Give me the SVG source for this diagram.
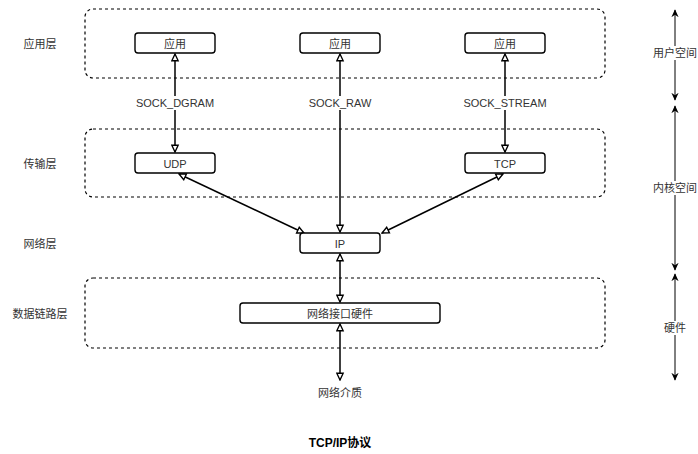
<svg xmlns="http://www.w3.org/2000/svg" width="698" height="454" viewBox="0 0 698 454">
<style>
text{font-family:"Liberation Sans",Arial,"Noto Sans CJK SC",sans-serif;font-size:11px;fill:#333;text-anchor:middle;dominant-baseline:central}
.grp{fill:none;stroke:#000;stroke-width:1.2;stroke-dasharray:3 3}
.node{fill:#fff;stroke:#000;stroke-width:1.4}
.c{fill:none;stroke:#000;stroke-width:1.5}
.s{fill:none;stroke:#000;stroke-width:1}
.bg{fill:#fff}
</style>
<defs>
<marker id="o" viewBox="0 0 10 10" refX="9" refY="5" markerWidth="9" markerHeight="9" orient="auto-start-reverse" markerUnits="userSpaceOnUse">
<path d="M1.5,1.5 L9,5 L1.5,8.5 Z" fill="#fff" stroke="#000" stroke-width="1.5"/>
</marker>
<marker id="f" viewBox="0 0 10 10" refX="9" refY="5" markerWidth="8" markerHeight="8" orient="auto-start-reverse" markerUnits="userSpaceOnUse">
<path d="M0,0.5 L10,5 L0,9.5 L3,5 Z" fill="#000"/>
</marker>
</defs>
<g id="groups">
<rect class="grp" x="85" y="9" width="520" height="69" rx="8"/>
<rect class="grp" x="85" y="129" width="520" height="68" rx="8"/>
<rect class="grp" x="85" y="278" width="520" height="70" rx="8"/>
</g>
<g id="layer-labels">
<text x="40" y="44">应用层</text>
<text x="40" y="164">传输层</text>
<text x="40" y="244">网络层</text>
<text x="40" y="314">数据链路层</text>
</g>
<g id="connectors">
<line class="c" x1="175" y1="54" x2="175" y2="152" marker-start="url(#o)" marker-end="url(#o)"/>
<line class="c" x1="340" y1="54" x2="340" y2="232" marker-start="url(#o)" marker-end="url(#o)"/>
<line class="c" x1="505" y1="54" x2="505" y2="152" marker-start="url(#o)" marker-end="url(#o)"/>
<line class="c" x1="179" y1="174" x2="304" y2="233" marker-start="url(#o)" marker-end="url(#o)"/>
<line class="c" x1="503" y1="174" x2="382" y2="233" marker-start="url(#o)" marker-end="url(#o)"/>
<line class="c" x1="340" y1="254" x2="340" y2="302" marker-start="url(#o)" marker-end="url(#o)"/>
<line class="c" x1="340" y1="324" x2="340" y2="380" marker-start="url(#o)" marker-end="url(#o)"/>
<rect class="bg" x="136" y="96" width="78" height="14"/>
<text x="175" y="103">SOCK_DGRAM</text>
<rect class="bg" x="309" y="96" width="62" height="14"/>
<text x="340" y="103">SOCK_RAW</text>
<rect class="bg" x="464" y="96" width="82" height="14"/>
<text x="505" y="103">SOCK_STREAM</text>
</g>
<g id="app1"><rect class="node" x="135" y="33" width="80" height="20" rx="3"/><text x="175" y="44">应用</text></g>
<g id="app2"><rect class="node" x="300" y="33" width="80" height="20" rx="3"/><text x="340" y="44">应用</text></g>
<g id="app3"><rect class="node" x="465" y="33" width="80" height="20" rx="3"/><text x="505" y="44">应用</text></g>
<g id="udp"><rect class="node" x="135" y="153" width="80" height="20" rx="3"/><text x="175" y="164">UDP</text></g>
<g id="tcp"><rect class="node" x="465" y="153" width="80" height="20" rx="3"/><text x="505" y="164">TCP</text></g>
<g id="ip"><rect class="node" x="300" y="233" width="80" height="20" rx="3"/><text x="340" y="244">IP</text></g>
<g id="nic"><rect class="node" x="240" y="303" width="200" height="20" rx="3"/><text x="340" y="314">网络接口硬件</text></g>
<g id="medium"><text x="340" y="393">网络介质</text></g>
<g id="spaces">
<line class="s" x1="675" y1="10" x2="675" y2="100" marker-start="url(#f)" marker-end="url(#f)"/>
<line class="s" x1="675" y1="106" x2="675" y2="270" marker-start="url(#f)" marker-end="url(#f)"/>
<line class="s" x1="675" y1="274" x2="675" y2="380" marker-start="url(#f)" marker-end="url(#f)"/>
<rect class="bg" x="653" y="46" width="44" height="14"/>
<text x="675" y="53">用户空间</text>
<rect class="bg" x="653" y="181" width="44" height="14"/>
<text x="675" y="188">内核空间</text>
<rect class="bg" x="662" y="321" width="26" height="14"/>
<text x="675" y="328">硬件</text>
</g>
<g id="title"><text x="340" y="443" style="font-weight:bold;font-size:12px;fill:#000">TCP/IP协议</text></g>
</svg>
